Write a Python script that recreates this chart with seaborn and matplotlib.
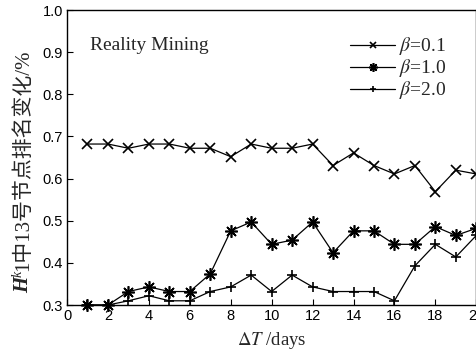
import matplotlib
matplotlib.use("Agg")
import matplotlib.pyplot as plt
import seaborn as sns
import pandas as pd

days = list(range(1, 21))
beta_01 = [0.682, 0.682, 0.672, 0.682, 0.682, 0.672, 0.672, 0.652, 0.682, 0.672,
           0.672, 0.682, 0.631, 0.661, 0.631, 0.611, 0.631, 0.569, 0.620, 0.611]
beta_10 = [0.300, 0.300, 0.332, 0.343, 0.332, 0.332, 0.374, 0.476, 0.497, 0.444,
           0.454, 0.497, 0.424, 0.476, 0.476, 0.444, 0.444, 0.486, 0.465, 0.482]
beta_20 = [0.300, 0.300, 0.310, 0.322, 0.310, 0.310, 0.332, 0.343, 0.371, 0.332,
           0.371, 0.343, 0.332, 0.332, 0.332, 0.310, 0.393, 0.444, 0.414, 0.465]
labels = [r"$\beta$=0.1", r"$\beta$=1.0", r"$\beta$=2.0"]
markers = ["x", (8, 2, 0), "+"]
msizes = [7, 9, 7]
yticks = [0.3, 0.4, 0.5, 0.6, 0.7, 0.8, 0.9, 1.0]

sns.set_theme(style="white")
plt.rcParams["font.family"] = ["Liberation Serif", "Noto Sans CJK SC"]
plt.rcParams["mathtext.fontset"] = "stix"

df = pd.DataFrame({"day": days * 3,
                   "val": beta_01 + beta_10 + beta_20,
                   "series": [labels[0]] * 20 + [labels[1]] * 20 + [labels[2]] * 20})

W, H = 477, 352
fig = plt.figure(figsize=(W / 100, H / 100), dpi=100)
ax = fig.add_axes([0.1405, 0.1335, 0.858, 0.838])

for lab, mk, ms in zip(labels, markers, msizes):
    sub = df[df["series"] == lab]
    sns.lineplot(data=sub, x="day", y="val", ax=ax, color="black", lw=0.9,
                 marker=mk, markersize=ms, markeredgewidth=1.2,
                 markeredgecolor="black", label=lab, clip_on=False)

ax.set_xlim(0, 20)
ax.set_ylim(0.3, 1.0)
ax.set_xticks(range(0, 21, 2))
ax.set_yticks(yticks)
ax.set_yticklabels([f"{v:.1f}" for v in yticks])
for lbl in ax.get_xticklabels() + ax.get_yticklabels():
    lbl.set_fontfamily("Liberation Sans")
    lbl.set_fontsize(10.5)
ax.tick_params(direction="in", length=4, width=0.8, colors="black", pad=3,
               top=False, right=False, bottom=True, left=True)
for s in ax.spines.values():
    s.set_color("black")
    s.set_linewidth(1.0)

ax.set_xlabel(r"$\Delta\mathit{T}$ /days", fontsize=13.5, labelpad=5)
ax.set_ylabel("")

ax.text(1.1, 0.915, "Reality Mining", fontsize=14, ha="left", va="center")

leg = ax.legend(loc="upper right", bbox_to_anchor=(0.96, 0.96), frameon=False,
                fontsize=14, handlelength=2.3, handletextpad=0.2,
                labelspacing=0.0, borderaxespad=0.3, markerscale=0.7)

# vertical axis title, assembled piece by piece from the bottom up
fig.canvas.draw()
renderer = fig.canvas.get_renderer()
x_pix = 23
y_pix = H - 293
pieces = [
    ("H", dict(fontsize=15, fontweight="bold", fontstyle="italic",
               family="Liberation Serif"), 0),
    ("k", dict(fontsize=10, fontstyle="italic", family="Liberation Serif"), -5),
    ("1中13号节点排名变化/%", dict(fontsize=15,
                          family=["Liberation Serif", "Noto Sans CJK SC"]), 0),
]
for txt, kw, dx in pieces:
    t = fig.text((x_pix + dx) / W, y_pix / H, txt, rotation=90,
                 ha="center", va="bottom", **kw)
    bb = t.get_window_extent(renderer)
    y_pix = bb.y1

fig.savefig("out.png", dpi=100)
